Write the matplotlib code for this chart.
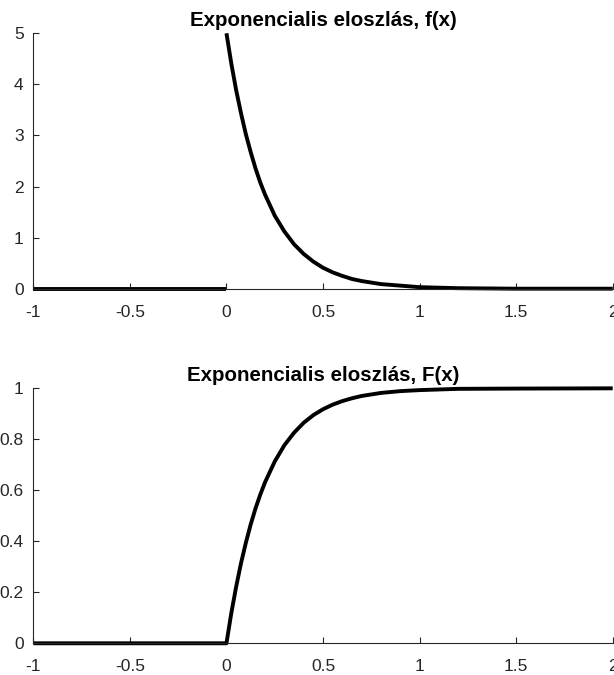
import matplotlib
matplotlib.use("Agg")
import matplotlib.pyplot as plt

# Data
x_neg = [-1.0, 0.0]
f_neg = [0.0, 0.0]
F_neg = [0.0, 0.0]

x_pos = [0.0, 0.025, 0.05, 0.075, 0.1, 0.125, 0.15, 0.175, 0.2, 0.25, 0.3, 0.35,
         0.4, 0.45, 0.5, 0.55, 0.6, 0.65, 0.7, 0.8, 0.9, 1.0, 1.2, 1.5, 2.0]
f_pos = [5.00, 4.41, 3.89, 3.44, 3.03, 2.68, 2.36, 2.08, 1.84, 1.43, 1.12, 0.87,
         0.68, 0.53, 0.41, 0.32, 0.25, 0.19, 0.15, 0.09, 0.06, 0.03, 0.01, 0.00, 0.00]
F_pos = [0.0, 0.118, 0.221, 0.313, 0.393, 0.465, 0.528, 0.583, 0.632, 0.713, 0.777, 0.826,
         0.865, 0.895, 0.918, 0.936, 0.950, 0.961, 0.970, 0.982, 0.989, 0.993, 0.998, 0.999, 1.0]

xticks = [-1, -0.5, 0, 0.5, 1, 1.5, 2]
xticklabels = ["-1", "-0.5", "0", "0.5", "1", "1.5", "2"]
yticks_f = [0, 1, 2, 3, 4, 5]
yticklabels_f = ["0", "1", "2", "3", "4", "5"]
yticks_F = [0, 0.2, 0.4, 0.6, 0.8, 1]
yticklabels_F = ["0", "0.2", "0.4", "0.6", "0.8", "1"]
titles = ["Exponencialis eloszlás, f(x)", "Exponencialis eloszlás, F(x)"]

plt.rcParams['font.family'] = ['Liberation Sans', 'DejaVu Sans']

fig = plt.figure(figsize=(6.14, 6.75), dpi=100)
ax1 = fig.add_axes([0.0543, 0.5723, 0.9436, 0.3784])
ax2 = fig.add_axes([0.0543, 0.0470, 0.9436, 0.3777])

axis_col = '#262626'
lw = 2.8

def style(ax, yt, ytl, ylim, title):
    ax.set_xlim(-1, 2)
    ax.set_ylim(*ylim)
    ax.set_xticks(xticks)
    ax.set_xticklabels(xticklabels)
    ax.set_yticks(yt)
    ax.set_yticklabels(ytl)
    for s in ['top', 'right']:
        ax.spines[s].set_visible(False)
    for s in ['left', 'bottom']:
        ax.spines[s].set_color(axis_col)
        ax.spines[s].set_linewidth(0.8)
    ax.tick_params(axis='both', direction='in', length=4, width=0.8,
                   color=axis_col, labelcolor=axis_col, labelsize=12.5)
    ax.tick_params(axis='x', pad=11.5)
    ax.tick_params(axis='y', pad=7)
    ax.set_title(title, fontsize=14.8, fontweight='bold', pad=5)

ax1.plot(x_neg, f_neg, color='black', lw=lw, clip_on=False, solid_capstyle='butt')
ax1.plot(x_pos, f_pos, color='black', lw=lw, clip_on=False, solid_capstyle='butt')
style(ax1, yticks_f, yticklabels_f, (0, 5), titles[0])

ax2.plot(x_neg + x_pos[1:], F_neg + F_pos[1:], color='black', lw=lw, clip_on=False,
         solid_capstyle='butt')
style(ax2, yticks_F, yticklabels_F, (0, 1), titles[1])

fig.savefig("out.png", dpi=100)
